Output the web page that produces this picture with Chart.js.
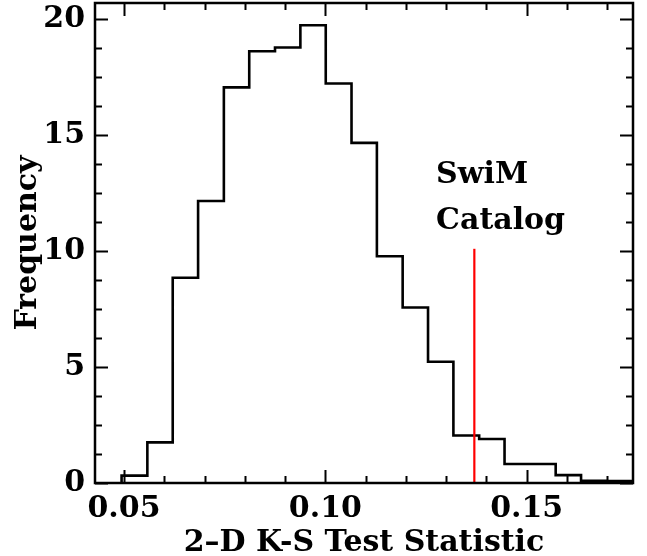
<!DOCTYPE html>
<html>
<head>
<meta charset="utf-8">
<script src="https://cdn.jsdelivr.net/npm/chart.js@4.4.0/dist/chart.umd.min.js"></script>
<style>
  html, body { margin: 0; padding: 0; background: #fff; }
</style>
</head>
<body>
<canvas id="myChart" width="647" height="556"></canvas>
<script>
// histogram of the 2-D K-S statistic
const binEdges = [0.0494, 0.0558, 0.0621, 0.0684, 0.0748, 0.0811, 0.0875, 0.0938, 0.1001, 0.1065,
  0.1128, 0.1192, 0.1255, 0.1318, 0.1382, 0.1445, 0.1509, 0.1572, 0.1635, 0.1699, 0.1762];
const frequency = [0.32, 1.75, 8.85, 12.16, 17.06, 18.62, 18.78, 19.74, 17.23, 14.67,
  9.78, 7.57, 5.23, 2.05, 1.90, 0.82, 0.82, 0.34, 0.10, 0.08];

// observed value for the SwiM catalog
const swimValue = 0.1370;
const swimLineTop = 10.1;
const swimLabel = ['SwiM', 'Catalog'];
const swimLabelPos = [[0.1275, 12.94], [0.1275, 10.95]];

const xTickLabels = ['0.05', '0.10', '0.15'];
const yTickLabels = ['0', '5', '10', '15', '20'];

const FONT = 'DejaVu Serif';
const FONT_SIZE = 30;

function buildSteps() {
  const pts = [{ x: binEdges[0], y: 0 }];
  frequency.forEach((f, i) => pts.push({ x: binEdges[i], y: f }));
  pts.push({ x: binEdges[binEdges.length - 1], y: frequency[frequency.length - 1] });
  pts.push({ x: binEdges[binEdges.length - 1], y: 0 });
  return pts;
}

function isMajorX(v) {
  return xTickLabels.includes(v.toFixed(2));
}
function isMajorY(v) {
  return yTickLabels.includes(String(Math.round(v * 100) / 100));
}

// frame, inward ticks on all four sides, and the text label
const frameAndTicks = {
  id: 'frameAndTicks',
  afterDatasetsDraw(chart) {
    const { ctx, chartArea, scales } = chart;
    const { left, right, top, bottom } = chartArea;
    ctx.save();
    ctx.strokeStyle = '#000';
    ctx.lineCap = 'butt';

    scales.x.ticks.forEach((t) => {
      const px = Math.round(scales.x.getPixelForValue(t.value)) + 0.5;
      const len = isMajorX(t.value) ? 13 : 7;
      ctx.lineWidth = 2;
      ctx.beginPath();
      ctx.moveTo(px, bottom);
      ctx.lineTo(px, bottom - len);
      ctx.moveTo(px, top);
      ctx.lineTo(px, top + len);
      ctx.stroke();
    });

    scales.y.ticks.forEach((t) => {
      const py = Math.round(scales.y.getPixelForValue(t.value)) + 0.5;
      const len = isMajorY(t.value) ? 13 : 7;
      ctx.lineWidth = 2;
      ctx.beginPath();
      ctx.moveTo(left, py);
      ctx.lineTo(left + len, py);
      ctx.moveTo(right, py);
      ctx.lineTo(right - len, py);
      ctx.stroke();
    });

    ctx.lineWidth = 2.5;
    ctx.strokeRect(left, top, right - left, bottom - top);

    ctx.fillStyle = '#000';
    ctx.font = 'bold ' + FONT_SIZE + 'px "' + FONT + '"';
    ctx.textAlign = 'left';
    ctx.textBaseline = 'alphabetic';
    swimLabel.forEach((txt, i) => {
      const px = scales.x.getPixelForValue(swimLabelPos[i][0]);
      const py = scales.y.getPixelForValue(swimLabelPos[i][1]);
      ctx.fillText(txt, px, py);
    });
    ctx.restore();
  }
};

const ctx = document.getElementById('myChart').getContext('2d');

const myChart = new Chart(ctx, {
  type: 'line',
  data: {
    datasets: [
      {
        label: 'SwiM',
        data: [{ x: swimValue, y: 0 }, { x: swimValue, y: swimLineTop }],
        borderColor: '#ff0000',
        borderWidth: 2.2,
        pointRadius: 0,
        order: 0,
      },
      {
        label: 'Simulated',
        data: buildSteps(),
        stepped: true,
        borderColor: '#000',
        borderWidth: 2.6,
        pointRadius: 0,
        fill: false,
        order: 1,
      },
    ],
  },
  options: {
    responsive: false,
    animation: false,
    layout: { padding: { left: 0, right: 14, top: 3, bottom: 0 } },
    plugins: {
      legend: { display: false },
      tooltip: { enabled: false },
    },
    scales: {
      x: {
        type: 'linear',
        min: 0.0428,
        max: 0.1764,
        border: { display: false },
        grid: { display: false, drawTicks: false },
        ticks: {
          stepSize: 0.01,
          includeBounds: false,
          autoSkip: false,
          maxRotation: 0,
          padding: 8,
          color: '#000',
          font: { family: FONT, size: FONT_SIZE, weight: 'bold' },
          callback: (v) => (isMajorX(v) ? v.toFixed(2) : ''),
        },
        title: {
          display: true,
          text: '2–D K-S Test Statistic',
          color: '#000',
          padding: 0,
          font: { family: FONT, size: FONT_SIZE, weight: 'bold', lineHeight: 0.85 },
        },
        afterFit: (scale) => {
          scale.height = 73;
          scale.paddingLeft = 0;
          scale.paddingRight = 0;
        },
      },
      y: {
        min: 0,
        max: 20.7,
        border: { display: false },
        grid: { display: false, drawTicks: false },
        ticks: {
          stepSize: 1.25,
          includeBounds: false,
          autoSkip: false,
          padding: 10,
          color: '#000',
          font: { family: FONT, size: FONT_SIZE, weight: 'bold' },
          callback: (v) => (isMajorY(v) ? String(v) : ''),
        },
        title: {
          display: true,
          text: 'Frequency',
          color: '#000',
          padding: { top: 13, bottom: 0 },
          font: { family: FONT, size: FONT_SIZE, weight: 'bold', lineHeight: 1 },
        },
        afterFit: (scale) => {
          scale.width = 95;
          scale.paddingTop = 0;
          scale.paddingBottom = 0;
        },
      },
    },
  },
  plugins: [frameAndTicks],
});
</script>
</body>
</html>
